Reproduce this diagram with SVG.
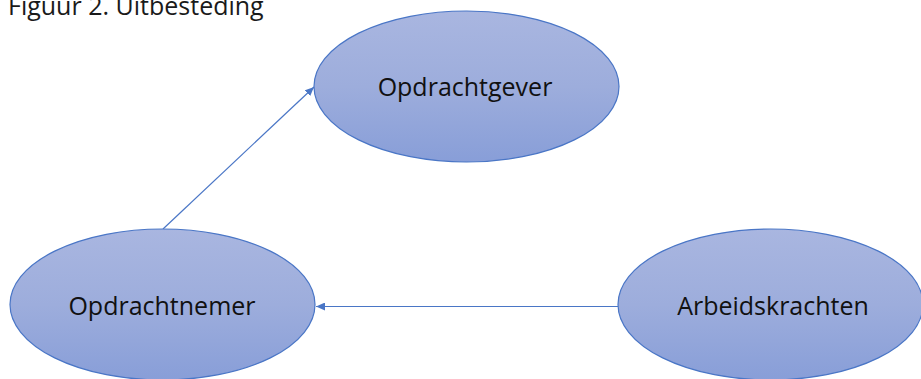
<svg xmlns="http://www.w3.org/2000/svg" width="921" height="379" viewBox="0 0 921 379">
<style>
.node { fill: url(#g); stroke: #4A76C6; stroke-width: 1.2; }
.lbl { font-family: "Open Sans", "Liberation Sans", sans-serif; font-size: 25px; fill: #111111; text-anchor: middle; }
.title { font-family: "Open Sans", "Liberation Sans", sans-serif; font-size: 25px; fill: #1a1a1a; }
.conn { stroke: #4A76C6; stroke-width: 1.2; fill: none; marker-end: url(#arr); }
</style>
<defs>
<linearGradient id="g" x1="0" y1="0" x2="0" y2="1">
<stop offset="0" stop-color="#A9B6E0"/>
<stop offset="0.5" stop-color="#9DADDC"/>
<stop offset="1" stop-color="#889ED8"/>
</linearGradient>
<marker id="arr" markerUnits="userSpaceOnUse" markerWidth="10" markerHeight="8" refX="9" refY="4" orient="auto">
<path d="M0,0 L9,4 L0,8 Z" fill="#4A76C6"/>
</marker>
</defs>
<text class="title" x="8" y="15">Figuur 2. Uitbesteding</text>
<g id="connectors">
<line class="conn" x1="163" y1="229" x2="314" y2="87"/>
<line class="conn" x1="618" y1="306.5" x2="316" y2="306.5"/>
</g>
<g id="opdrachtgever">
<ellipse class="node" cx="466.5" cy="86.5" rx="152.5" ry="75.5"/>
<text class="lbl" x="465" y="96">Opdrachtgever</text>
</g>
<g id="opdrachtnemer">
<ellipse class="node" cx="162.5" cy="304.5" rx="152.5" ry="75.5"/>
<text class="lbl" x="162" y="315">Opdrachtnemer</text>
</g>
<g id="arbeidskrachten">
<ellipse class="node" cx="770.5" cy="304.5" rx="152.5" ry="75.5"/>
<text class="lbl" x="773" y="315">Arbeidskrachten</text>
</g>
</svg>
